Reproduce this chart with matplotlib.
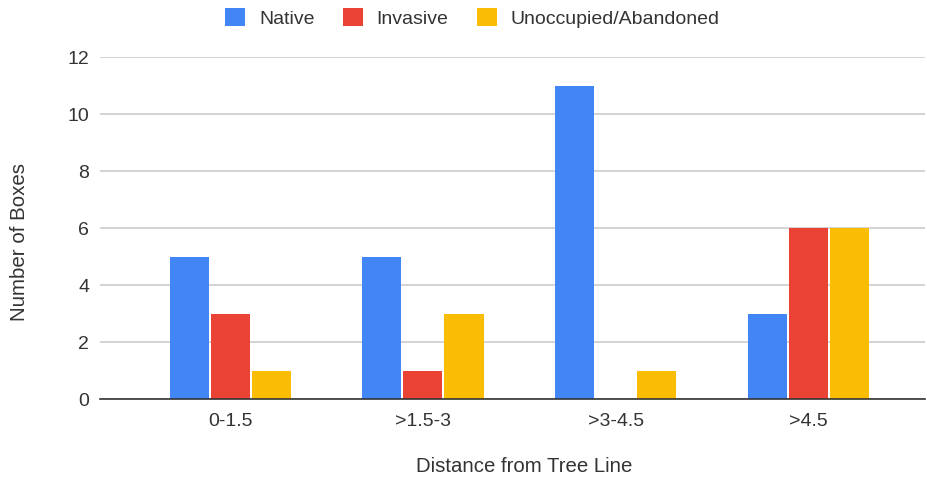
import numpy as np
import matplotlib.pyplot as plt

categories = ['0-1.5', '>1.5-3', '>3-4.5', '>4.5']
native = [5, 5, 11, 3]
invasive = [3, 1, 0, 6]
unoccupied = [1, 3, 1, 6]

series = [('Native', native, '#4285F4'),
          ('Invasive', invasive, '#EA4335'),
          ('Unoccupied/Abandoned', unoccupied, '#FBBC04')]

plt.rcParams['font.family'] = ['Liberation Sans', 'DejaVu Sans']
txt = '#333333'

fig = plt.figure(figsize=(9.28, 4.79), dpi=100)
ax = fig.add_axes([0.108, 0.167, 0.889, 0.714])

x = np.arange(len(categories))
w = 0.203
step = 0.213
for i, (name, vals, col) in enumerate(series):
    ax.bar(x + (i - 1) * step, vals, width=w, color=col, label=name, zorder=3)

ax.set_xlim(-0.675, 3.607)
ax.set_ylim(0, 12)
ax.set_yticks(range(0, 13, 2))
ax.set_xticks(x)
ax.set_xticklabels(categories)
ax.grid(axis='y', color='#cccccc', linewidth=1.2, zorder=0)
for s in ['top', 'right', 'left']:
    ax.spines[s].set_visible(False)
ax.spines['bottom'].set_color('#333333')
ax.spines['bottom'].set_linewidth(1.2)
ax.spines['bottom'].set_zorder(4)
ax.tick_params(axis='both', length=0, labelsize=14, colors=txt)
ax.tick_params(axis='x', pad=10)
ax.tick_params(axis='y', pad=8)

fig.text(0.565, 0.027, 'Distance from Tree Line', ha='center', va='center', fontsize=14.7, color=txt)
fig.text(0.021, 0.495, 'Number of Boxes', ha='center', va='center', rotation=90, fontsize=14.8, color=txt)

fig.legend(loc='upper center', bbox_to_anchor=(0.509, 1.019), ncol=3, frameon=False,
           fontsize=14, handlelength=1.03, handleheight=1.03, handletextpad=0.72,
           columnspacing=1.44, labelcolor=txt)

fig.savefig('out.png', dpi=100)
